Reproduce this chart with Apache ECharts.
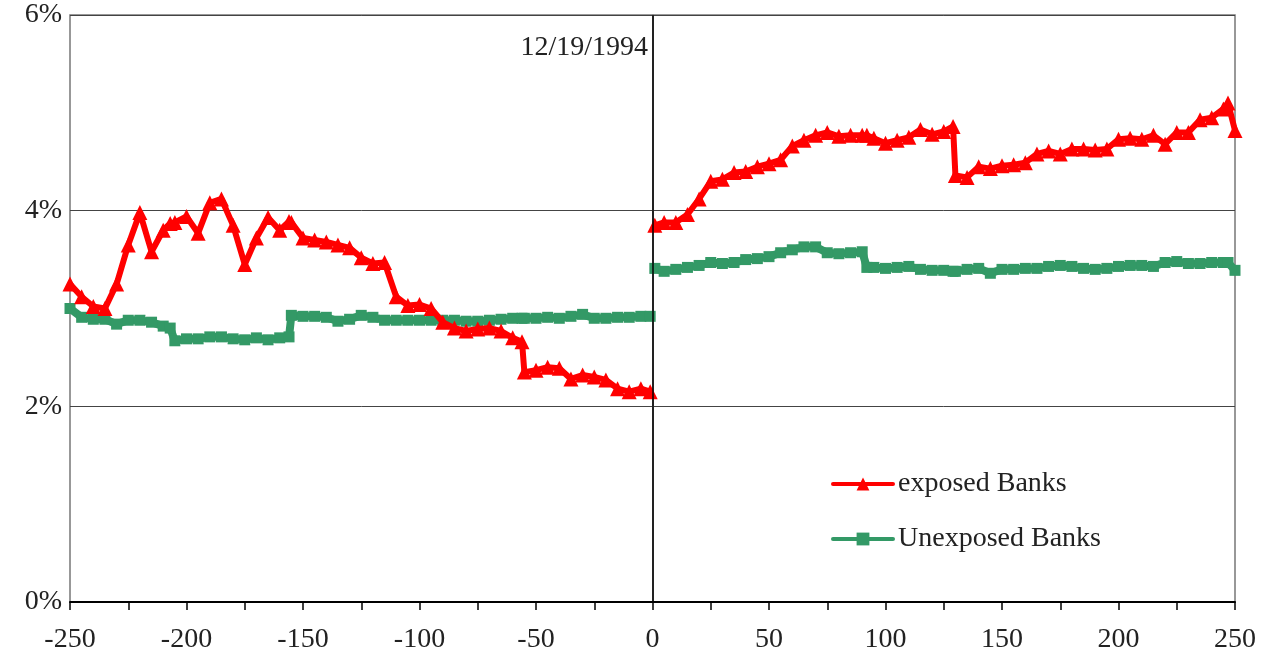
<!DOCTYPE html>
<html>
<head>
<meta charset="utf-8">
<title>exposed vs unexposed banks</title>
<script src="https://cdn.jsdelivr.net/npm/echarts@6/dist/echarts.min.js"></script>
<style>
	html, body { margin: 0; padding: 0; background: #fff; }
	#main { width: 1264px; height: 665px; }
</style>
</head>
<body>
<div id="main"></div>
<script>
"use strict";
// 事件日（相对 12/19/1994 的交易日）
var days = [
	-250, -245, -240, -235, -230, -225, -220, -215, -210, -207,
	-205, -200, -195, -190, -185, -180, -175, -170, -165, -160,
	-156, -155, -150, -145, -140, -135, -130, -125, -120, -115,
	-110, -105, -100, -95, -90, -85, -80, -75, -70, -65,
	-60, -56, -55, -50, -45, -40, -35, -30, -25, -20,
	-15, -10, -5, -1, 0, 1, 5, 10, 15, 20,
	25, 30, 35, 40, 45, 50, 55, 60, 65, 70,
	75, 80, 85, 90, 92, 95, 100, 105, 110, 115,
	120, 125, 129, 130, 135, 140, 145, 150, 155, 160,
	165, 170, 175, 180, 185, 190, 195, 200, 205, 210,
	215, 220, 225, 230, 235, 240, 245, 247, 250
];
// exposed Banks (%)
var exposedBanks = [
	3.25, 3.12, 3.02, 3.00, 3.25, 3.65, 3.98, 3.58, 3.80, 3.87,
	3.88, 3.94, 3.77, 4.08, 4.12, 3.85, 3.45, 3.72, 3.93, 3.80,
	3.89, 3.88, 3.72, 3.70, 3.68, 3.65, 3.62, 3.52, 3.46, 3.47,
	3.12, 3.03, 3.04, 3.00, 2.86, 2.80, 2.77, 2.79, 2.80, 2.77,
	2.70, 2.66, 2.35, 2.37, 2.40, 2.39, 2.28, 2.32, 2.30, 2.27,
	2.18, 2.15, 2.18, 2.15, null, 3.85, 3.88, 3.88, 3.96, 4.12,
	4.30, 4.32, 4.39, 4.40, 4.45, 4.48, 4.52, 4.66, 4.72, 4.77,
	4.80, 4.76, 4.77, 4.77, 4.77, 4.74, 4.69, 4.72, 4.75, 4.83,
	4.78, 4.81, 4.86, 4.36, 4.34, 4.45, 4.43, 4.46, 4.47, 4.49,
	4.58, 4.61, 4.58, 4.63, 4.63, 4.62, 4.63, 4.73, 4.74, 4.73,
	4.77, 4.68, 4.80, 4.80, 4.93, 4.95, 5.04, 5.10, 4.82
];
// Unexposed Banks (%)
var unexposedBanks = [
	3.00, 2.91, 2.89, 2.89, 2.84, 2.88, 2.88, 2.86, 2.82, 2.80,
	2.67, 2.69, 2.69, 2.71, 2.71, 2.69, 2.68, 2.70, 2.68, 2.70,
	2.71, 2.93, 2.92, 2.92, 2.91, 2.87, 2.89, 2.93, 2.91, 2.88,
	2.88, 2.88, 2.88, 2.88, 2.88, 2.88, 2.87, 2.87, 2.88, 2.89,
	2.90, 2.90, 2.90, 2.90, 2.91, 2.90, 2.92, 2.94, 2.90, 2.90,
	2.91, 2.91, 2.92, 2.92, null, 3.41, 3.38, 3.40, 3.42, 3.44,
	3.47, 3.46, 3.47, 3.50, 3.51, 3.53, 3.57, 3.60, 3.63, 3.63,
	3.57, 3.56, 3.57, 3.58, 3.42, 3.42, 3.41, 3.42, 3.43, 3.40,
	3.39, 3.39, 3.38, 3.38, 3.40, 3.41, 3.36, 3.40, 3.40, 3.41,
	3.41, 3.43, 3.44, 3.43, 3.41, 3.40, 3.41, 3.43, 3.44, 3.44,
	3.43, 3.47, 3.48, 3.46, 3.46, 3.47, 3.47, 3.47, 3.39
];
var seriesNames = ['exposed Banks', 'Unexposed Banks'];
var eventLabel = '12/19/1994';

// 组合成 [x, y]
function pairs(vals) {
	var out = [];
	for (var i = 0; i < days.length; i++) {
		out.push([days[i], vals[i]]);
	}
	return out;
}

var font = 'Liberation Serif';
var myChart = echarts.init(document.getElementById('main'));
var option = {
	animation: false,
	backgroundColor: '#fff',
	grid: {
		left: 70, right: 29, top: 15, bottom: 63,
		show: true,
		borderColor: '#777',
		borderWidth: 1.5
	},
	legend: {
		orient: 'vertical',
		left: 826,
		top: 465,
		itemWidth: 60,
		itemHeight: 16,
		itemGap: 27,
		lineStyle: { width: 4, cap: 'round' },
		textStyle: { fontFamily: font, fontSize: 28, color: '#222' },
		data: seriesNames
	},
	xAxis: {
		type: 'value',
		min: -250,
		max: 250,
		interval: 25,
		axisLine: { show: true, onZero: false, lineStyle: { color: '#000', width: 2 } },
		axisTick: { show: true, length: 8, lineStyle: { color: '#000', width: 1.5 } },
		axisLabel: {
			margin: 24,
			fontFamily: font, fontSize: 28, color: '#222',
			formatter: function (v) { return v % 50 === 0 ? String(v) : ''; }
		},
		splitLine: { show: false }
	},
	yAxis: {
		type: 'value',
		min: 0,
		max: 6,
		interval: 2,
		axisLine: { show: true, lineStyle: { color: '#888', width: 2 } },
		axisTick: { show: false },
		axisLabel: {
			margin: 8,
			fontFamily: font, fontSize: 28, color: '#222',
			formatter: '{value}%'
		},
		splitLine: { show: true, lineStyle: { color: '#444', width: 1 } }
	},
	graphic: [{
		type: 'text',
		right: 1264 - 648,
		top: 34,
		style: { text: eventLabel, fontFamily: font, fontSize: 28, fill: '#222' }
	}],
	series: [
		{
			name: seriesNames[0],
			type: 'line',
			data: pairs(exposedBanks),
			symbol: 'triangle',
			symbolSize: 15,
			showSymbol: true,
			showAllSymbol: true,
			connectNulls: false,
			itemStyle: { color: '#ff0000' },
			lineStyle: { color: '#ff0000', width: 6 },
			z: 3,
			markLine: {
				silent: true,
				symbol: ['none', 'none'],
				label: { show: false },
				lineStyle: { color: '#000', width: 1.5, type: 'solid' },
				data: [{ xAxis: 0 }]
			}
		},
		{
			name: seriesNames[1],
			type: 'line',
			data: pairs(unexposedBanks),
			symbol: 'rect',
			symbolSize: 11,
			showSymbol: true,
			showAllSymbol: true,
			connectNulls: false,
			itemStyle: { color: '#339966' },
			lineStyle: { color: '#339966', width: 8 },
			z: 2
		}
	]
};
myChart.setOption(option);
</script>
</body>
</html>
